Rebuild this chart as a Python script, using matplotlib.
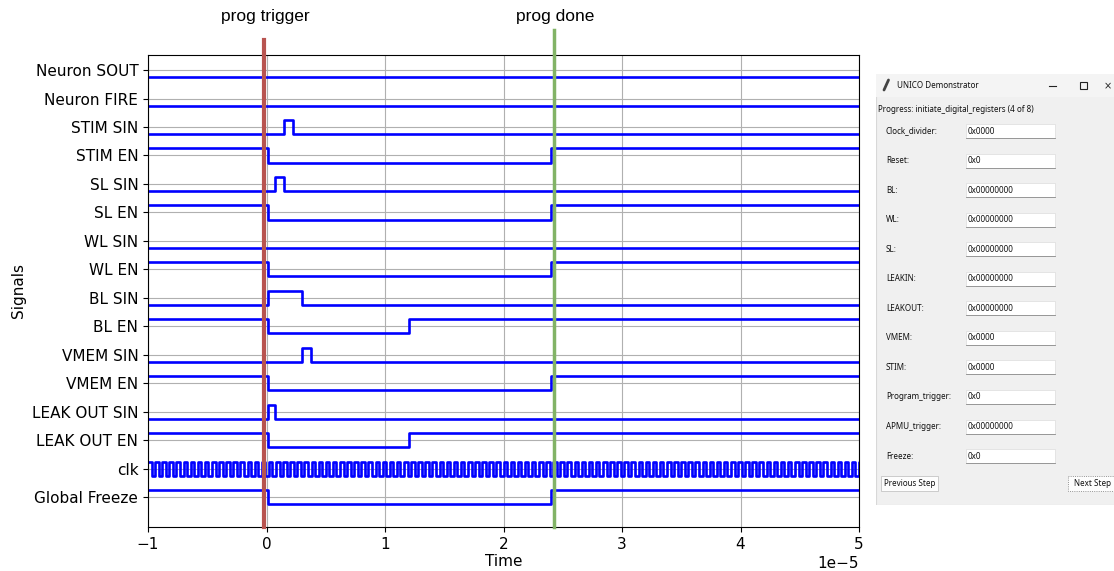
import numpy as np
import matplotlib
matplotlib.use('Agg')
from matplotlib import pyplot as plt
from matplotlib.patches import Rectangle

# signal names, top to bottom
signals = ['Neuron SOUT', 'Neuron FIRE', 'STIM SIN', 'STIM EN', 'SL SIN', 'SL EN',
           'WL SIN', 'WL EN', 'BL SIN', 'BL EN', 'VMEM SIN', 'VMEM EN',
           'LEAK OUT SIN', 'LEAK OUT EN', 'clk', 'Global Freeze']

# edge times (s) and the level after each edge
edges = {
    'Neuron SOUT':  ([-1e-5], [0]),
    'Neuron FIRE':  ([-1e-5], [0]),
    'STIM SIN':     ([-1e-5, 1.45e-6, 2.25e-6], [0, 1, 0]),
    'STIM EN':      ([-1e-5, 1e-7, 2.405e-5], [1, 0, 1]),
    'SL SIN':       ([-1e-5, 0.75e-6, 1.5e-6], [0, 1, 0]),
    'SL EN':        ([-1e-5, 1e-7, 2.405e-5], [1, 0, 1]),
    'WL SIN':       ([-1e-5], [0]),
    'WL EN':        ([-1e-5, 1e-7, 2.405e-5], [1, 0, 1]),
    'BL SIN':       ([-1e-5, 1e-7, 3.0e-6], [0, 1, 0]),
    'BL EN':        ([-1e-5, 1e-7, 1.2e-5], [1, 0, 1]),
    'VMEM SIN':     ([-1e-5, 3.0e-6, 3.75e-6], [0, 1, 0]),
    'VMEM EN':      ([-1e-5, 1e-7, 2.405e-5], [1, 0, 1]),
    'LEAK OUT SIN': ([-1e-5, 1e-7, 0.75e-6], [0, 1, 0]),
    'LEAK OUT EN':  ([-1e-5, 1e-7, 1.2e-5], [1, 0, 1]),
    'Global Freeze': ([-1e-5, 1e-7, 2.405e-5], [1, 0, 1]),
}
clk_period = 0.6e-6
t_start, t_end = -1e-5, 5e-5

prog_trigger_t = -0.2e-6
prog_done_t = 2.43e-5

# GUI panel contents
gui_title = 'UNICO Demonstrator'
gui_progress = 'Progress: initiate_digital_registers (4 of 8)'
field_names = ['Clock_divider:', 'Reset:', 'BL:', 'WL:', 'SL:', 'LEAKIN:', 'LEAKOUT:',
               'VMEM:', 'STIM:', 'Program_trigger:', 'APMU_trigger:', 'Freeze:']
field_values = ['0x0000', '0x0', '0x00000000', '0x00000000', '0x00000000', '0x00000000',
                '0x00000000', '0x0000', '0x0000', '0x0', '0x00000000', '0x0']

W, H = 1114, 571
fig = plt.figure(figsize=(W / 100, H / 100), dpi=100)
ax = fig.add_axes([148 / W, 1 - 527 / H, 711 / W, 472 / H])

n = len(signals)
for i, name in enumerate(signals):
    base = n - 1 - i
    if name == 'clk':
        t = np.arange(t_start, t_end + clk_period, clk_period / 2)
        lv = (np.arange(len(t)) + 1) % 2
    else:
        t = np.array(edges[name][0] + [t_end])
        lv = np.array(edges[name][1] + [edges[name][1][-1]])
    ax.step(t, base - 0.25 + 0.5 * lv, where='post', color='blue', lw=1.9)

ax.set_yticks(np.arange(n - 1, -1, -1))
ax.set_yticklabels(signals, fontsize=11)
ax.tick_params(axis='x', labelsize=11)
ax.xaxis.get_offset_text().set_fontsize(11)
ax.set_xlim(t_start, t_end)
ax.set_ylim(-1.05, 15.53)
ax.grid(True)
ax.set_xlabel('Time', fontsize=11, labelpad=2)
ax.set_ylabel('Signals', fontsize=11)

ax.axvline(prog_trigger_t, ymin=0, ymax=1.032, color='#b85450', lw=3, clip_on=False, zorder=5)
ax.axvline(prog_done_t, ymin=0, ymax=1.053, color='#82b366', lw=2.5, clip_on=False, zorder=5)
fig.text(265 / W, 1 - 17 / H, 'prog trigger', ha='center', va='center',
         family='Liberation Sans', fontsize=12.5)
fig.text(555 / W, 1 - 17 / H, 'prog done', ha='center', va='center',
         family='Liberation Sans', fontsize=12.5)

# GUI screenshot panel, drawn in pixel coordinates
g = fig.add_axes([876 / W, 1 - 505 / H, 238 / W, 431 / H])
g.set_xlim(876, 1114)
g.set_ylim(505, 74)
g.axis('off')
g.add_patch(Rectangle((876, 74), 240, 431, fc='#f0f0f0', ec='#d8d8d8', lw=0.8))
g.add_patch(Rectangle((876, 74), 240, 23, fc='#f4f4f4', ec='none'))
gf = dict(family='Noto Sans', fontsize=5.8, va='center', color='#111111')
g.plot([884, 888.5], [90, 80], color='#444444', lw=2, solid_capstyle='round')
g.text(897, 86, gui_title, **gf)
g.plot([1049, 1056], [86, 86], color='#222222', lw=0.8)
g.add_patch(Rectangle((1079.5, 82), 7, 7, fc='none', ec='#222222', lw=0.8))
g.text(1104, 86, '\u00d7', family='DejaVu Sans', fontsize=7, va='center', color='#222222')
g.text(877.5, 109, gui_progress, **gf)

row_y = [131 + 29.55 * k for k in range(len(field_names))]
for y, lab, val in zip(row_y, field_names, field_values):
    g.text(886, y, lab, **gf)
    g.add_patch(Rectangle((966, y - 7), 89, 14, fc='white', ec='#dcdcdc', lw=0.5))
    g.plot([966, 1055], [y + 7, y + 7], color='#8a8a8a', lw=0.6)
    g.text(968, y, val, **gf)

g.add_patch(Rectangle((881, 476), 57, 15, fc='#fdfdfd', ec='#c4c4c4', lw=0.6))
g.text(909.5, 483.5, 'Previous Step', ha='center', **gf)
g.add_patch(Rectangle((1068, 476), 50, 15, fc='#fdfdfd', ec='#777777', lw=0.6, ls=':'))
g.text(1074, 483.5, 'Next Step', **gf)

fig.savefig('out.png', dpi=100)
